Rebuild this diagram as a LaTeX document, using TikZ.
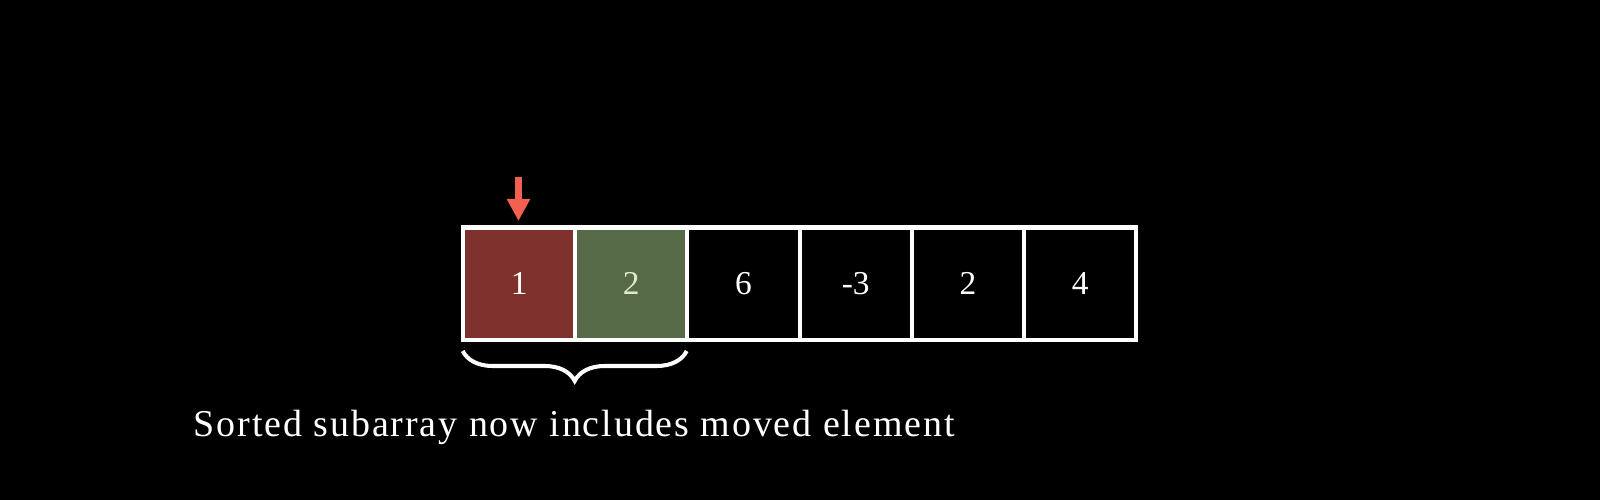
\documentclass[tikz,border=0pt]{standalone}
\usepackage{fontspec}
\setmainfont{Liberation Serif}
\newfontfamily\captionfont[LetterSpace=5.0]{Liberation Serif}
\usetikzlibrary{positioning,arrows.meta,decorations.pathreplacing}
\definecolor{pointer}{RGB}{242,96,82}
\definecolor{movedred}{RGB}{127,50,45}
\definecolor{sortedgreen}{RGB}{86,106,72}
\definecolor{palegreen}{RGB}{220,235,205}
\begin{document}
\begin{tikzpicture}
\fill[black] (0,0) rectangle (16,5);
\useasboundingbox (0,0) rectangle (16,5);

\tikzstyle{cell}=[draw=white,line width=1.15pt,minimum size=1.122cm,inner sep=0pt,outer sep=0pt,text=white,font=\fontsize{9.5}{11}\selectfont]

\node[cell,fill=movedred] (c1) at (5.191,2.164) {1};
\node[cell,fill=sortedgreen,text=palegreen,right=0pt of c1] (c2) {2};
\node[cell,right=0pt of c2] (c3) {6};
\node[cell,right=0pt of c3] (c4) {-3};
\node[cell,right=0pt of c4] (c5) {2};
\node[cell,right=0pt of c5] (c6) {4};

\coordinate (ptop) at (5.185,3.23);
\draw[pointer,line width=0.067cm,-{Triangle[width=0.22cm,length=0.22cm]}] (ptop) -- ([yshift=0.065cm]c1.north -| ptop);

\coordinate (bl) at (4.627,1.49);
\coordinate (br) at (6.867,1.49);
\draw[white,line width=1.15pt,decorate,decoration={brace,amplitude=0.3cm}] (br) -- (bl);

\node[anchor=base west,inner sep=0pt,text=white,font=\captionfont\fontsize{10.8}{13}\selectfont] (caption) at (1.93,0.63) {Sorted subarray now includes moved element};
\end{tikzpicture}
\end{document}
